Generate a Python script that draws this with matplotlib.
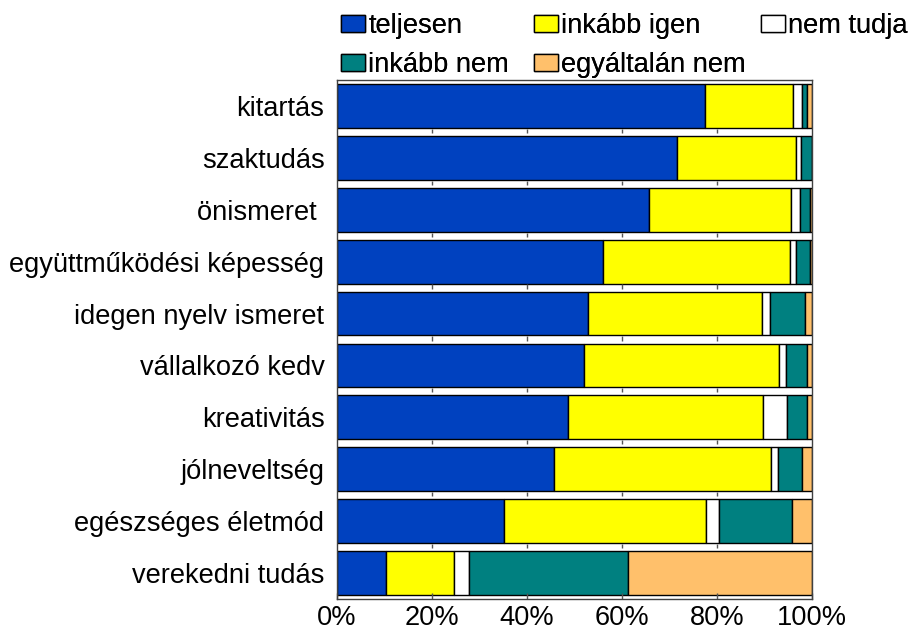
import matplotlib
matplotlib.use("Agg")

import matplotlib.pyplot as plt
from matplotlib.patches import Patch
import numpy as np

plt.rcParams["font.family"] = ["Liberation Sans", "DejaVu Sans"]

categories = [
    "kitartás",
    "szaktudás",
    "önismeret ",
    "együttműködési képesség",
    "idegen nyelv ismeret",
    "vállalkozó kedv",
    "kreativitás",
    "jólneveltség",
    "egészséges életmód",
    "verekedni tudás",
]

# answer shares in percent, one value per category
teljesen = [77.5, 71.5, 65.6, 55.9, 52.9, 52.1, 48.6, 45.6, 35.2, 10.3]
inkabb_igen = [18.6, 25.2, 29.9, 39.4, 36.6, 41.0, 41.1, 45.8, 42.5, 14.4]
nem_tudja = [1.8, 0.9, 2.0, 1.3, 1.7, 1.5, 5.0, 1.4, 2.7, 3.1]
inkabb_nem = [1.0, 2.4, 2.1, 3.0, 7.4, 4.3, 4.3, 5.2, 15.3, 33.5]
egyaltalan_nem = [1.1, 0.0, 0.4, 0.4, 1.4, 1.1, 1.0, 2.0, 4.3, 38.7]

series = [
    ("teljesen", teljesen, "#0041BF"),
    ("inkább igen", inkabb_igen, "#FFFF00"),
    ("nem tudja", nem_tudja, "#FFFFFF"),
    ("inkább nem", inkabb_nem, "#008080"),
    ("egyáltalán nem", egyaltalan_nem, "#FFC06B"),
]

x_ticks = [0, 20, 40, 60, 80, 100]
x_tick_labels = ["0%", "20%", "40%", "60%", "80%", "100%"]

FS = 19.6

fig = plt.figure(figsize=(9.1, 6.34), dpi=100)
ax = fig.add_axes([0.3703, 0.0552, 0.5220, 0.8186])

y = np.arange(len(categories))
left = np.zeros(len(categories))
for name, vals, color in series:
    vals = np.array(vals)
    ax.barh(y, vals, left=left, height=0.845, color=color,
            edgecolor="black", linewidth=1.0, label=name)
    left += vals

ax.set_xlim(0, 100)
ax.set_ylim(len(categories) - 0.5, -0.5)

# small marks in the gaps between bars
gaps = np.arange(len(categories) - 1) + 0.5
for xt in x_ticks[1:-1]:
    for g in gaps:
        ax.vlines(xt, g - 0.06, g + 0.02, color="#555555", linewidth=1.0)

ax.set_yticks(y)
ax.set_yticklabels(categories, fontsize=FS)
ax.set_xticks(x_ticks)
ax.set_xticklabels(x_tick_labels, fontsize=FS)
ax.tick_params(axis="y", length=0, pad=9)
ax.tick_params(axis="x", direction="in", length=4, width=1, color="#555555", pad=4)

for side in ax.spines.values():
    side.set_color("#404040")
    side.set_linewidth(1.0)

# legend laid out on a fixed grid, row by row
cols_x = [341 / 910, 534 / 910, 761 / 910]
rows_y = [1 - 26 / 634, 1 - 65 / 634]
for i, (name, vals, color) in enumerate(series):
    r, c = divmod(i, 3)
    h = Patch(facecolor=color, edgecolor="black", linewidth=1.0)
    leg = fig.legend([h], [name], loc="center left",
                     bbox_to_anchor=(cols_x[c], rows_y[r]),
                     frameon=False, fontsize=FS, borderpad=0, borderaxespad=0,
                     handlelength=0.88, handleheight=0.55, handletextpad=0.13)
    fig.add_artist(leg)

fig.savefig("out.png", dpi=100)
